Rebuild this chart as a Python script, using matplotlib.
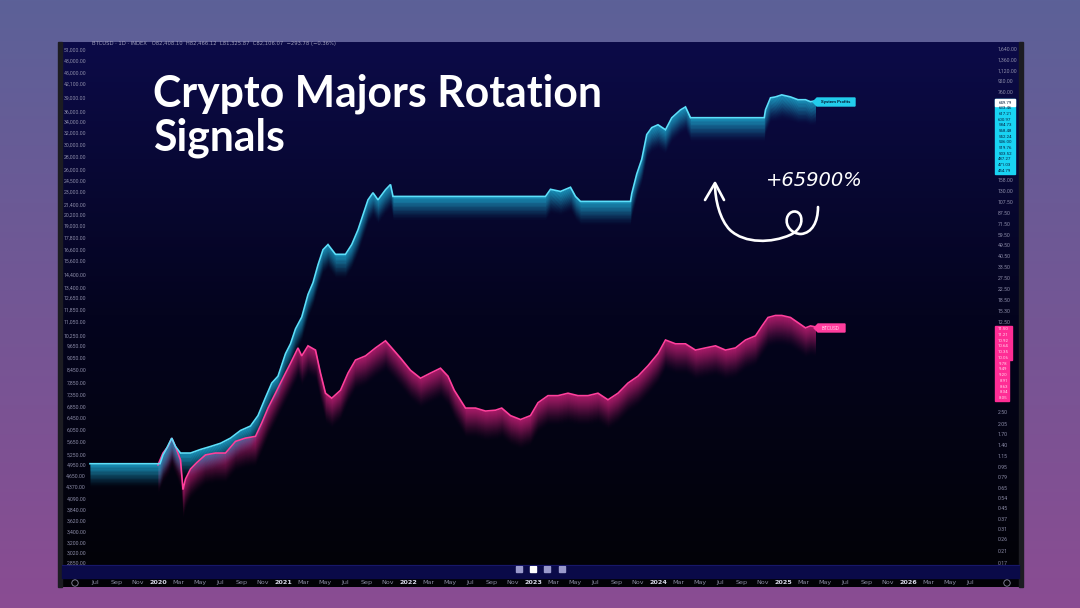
import numpy as np
import matplotlib
matplotlib.use("Agg")
import matplotlib.pyplot as plt
from matplotlib.path import Path
from matplotlib.patches import PathPatch, Rectangle, Polygon, Circle
from matplotlib.ticker import NullLocator

W, H = 1080, 608

# ---- data (decimal years, value as multiple of start) ----
cyan_t = [2019.456, 2020.016, 2020.04, 2020.07, 2020.11, 2020.14, 2020.18, 2020.26, 2020.34,
          2020.42, 2020.50, 2020.58, 2020.66, 2020.74, 2020.80, 2020.86, 2020.91, 2020.96,
          2021.02, 2021.06, 2021.10, 2021.15, 2021.20, 2021.24, 2021.28, 2021.32, 2021.36,
          2021.42, 2021.50, 2021.55, 2021.60, 2021.64, 2021.68, 2021.72, 2021.76, 2021.82,
          2021.86, 2021.88, 2023.10, 2023.14, 2023.22, 2023.30, 2023.34, 2023.38, 2023.78,
          2023.79, 2023.83, 2023.87, 2023.91, 2023.95, 2024.00, 2024.06, 2024.11, 2024.18,
          2024.22, 2024.26, 2024.85, 2024.86, 2024.90, 2024.94, 2024.99, 2025.06, 2025.12,
          2025.18, 2025.22, 2025.26]
cyan_v = [1.0, 1.0, 1.17, 1.32, 1.58, 1.36, 1.21, 1.21, 1.29,
          1.36, 1.44, 1.58, 1.81, 1.96, 2.36, 3.26, 4.22, 4.77,
          7.13, 8.5, 11.1, 13.7, 20.5, 25.3, 34.8, 45.6, 50,
          42, 42, 50, 65, 85, 111, 126, 111, 133,
          146, 118, 118, 134, 129, 139, 118, 108, 108,
          124, 176, 229, 356, 403, 424, 388, 480, 553,
          583, 481, 481, 553, 686, 697, 723, 697, 663,
          663, 640, 649.79]

pink_t = [2020.00, 2020.04, 2020.08, 2020.11, 2020.14, 2020.18, 2020.20, 2020.22, 2020.26,
          2020.31, 2020.38, 2020.46, 2020.54, 2020.62, 2020.70, 2020.78, 2020.83, 2020.88,
          2020.94, 2020.98, 2021.02, 2021.06, 2021.12, 2021.15, 2021.20, 2021.26, 2021.30,
          2021.34, 2021.39, 2021.46, 2021.52, 2021.58, 2021.66, 2021.74, 2021.82, 2021.87,
          2021.94, 2022.02, 2022.10, 2022.18, 2022.26, 2022.32, 2022.37, 2022.46, 2022.54,
          2022.62, 2022.70, 2022.75, 2022.82, 2022.90, 2022.98, 2023.04, 2023.12, 2023.20,
          2023.28, 2023.36, 2023.44, 2023.52, 2023.60, 2023.68, 2023.76, 2023.84, 2023.92,
          2024.00, 2024.06, 2024.14, 2024.22, 2024.30, 2024.38, 2024.46, 2024.54, 2024.62,
          2024.70, 2024.78, 2024.83, 2024.88, 2024.94, 2024.99, 2025.06, 2025.12, 2025.18,
          2025.22, 2025.26]
pink_v = [0.98, 1.21, 1.36, 1.58, 1.36, 1.07, 0.63, 0.76, 0.91,
          1.02, 1.17, 1.21, 1.21, 1.49, 1.58, 1.63, 2.07, 2.70,
          3.52, 4.22, 5.04, 6.0, 7.9, 6.85, 8.2, 7.6, 5.04,
          3.52, 3.22, 3.71, 5.04, 6.36, 6.85, 7.9, 8.97, 7.9,
          6.6, 5.3, 4.6, 5.04, 5.5, 4.77, 3.71, 2.70, 2.70,
          2.56, 2.60, 2.70, 2.36, 2.20, 2.36, 2.97, 3.37, 3.37,
          3.52, 3.37, 3.37, 3.52, 3.13, 3.52, 4.22, 4.77, 5.75,
          7.13, 9.1, 8.5, 8.5, 7.6, 7.9, 8.2, 7.6, 7.9,
          9.1, 9.8, 11.6, 13.6, 14.1, 14.1, 13.6, 12.4, 11.3,
          11.7, 11.5]

left_ticks = [51000, 48000, 45000, 42100, 39000, 36000, 34000, 32000, 30000, 28000, 26000,
              24500, 23000, 21400, 20200, 19000, 17800, 16600, 15600, 14400, 13400, 12650,
              11850, 11050, 10250, 9650, 9050, 8450, 7850, 7350, 6850, 6450, 6050, 5650,
              5250, 4950, 4650, 4370, 4090, 3840, 3620, 3400, 3200, 3020, 2850]
right_ticks = [1640, 1360, 1120, 920, 760, 158, 130, 107.5, 87.5, 71.5, 59.5, 49.5, 40.5,
               33.5, 27.5, 22.5, 18.5, 15.3, 12.5, 3.10, 2.50, 2.05, 1.70, 1.40, 1.15, 0.95,
               0.79, 0.65, 0.54, 0.45, 0.37, 0.31, 0.26, 0.21, 0.17]
cyan_stack = ["649.79", "633.46", "617.21", "600.97", "584.73", "568.48", "552.24", "536.00",
              "519.76", "503.52", "487.27", "471.03", "454.79"]
pink_stack = ["11.50", "11.21", "10.92", "10.64", "10.35", "10.06", "9.78", "9.49", "9.20",
              "8.91", "8.63", "8.34", "8.05"]
month_names = ["Jan", "Feb", "Mar", "Apr", "May", "Jun", "Jul", "Aug", "Sep", "Oct", "Nov", "Dec"]

fig = plt.figure(figsize=(W / 100, H / 100), dpi=100)

# ---- backgrounds ----
bg = fig.add_axes([0, 0, 1, 1], zorder=-10)
bg.axis("off")
g = np.linspace(0, 1, 256)[:, None]
top = np.array([92, 97, 152]) / 255
bot = np.array([138, 76, 146]) / 255
grad = top[None, None, :] * (1 - g[..., None]) + bot[None, None, :] * g[..., None]
bg.imshow(np.repeat(grad, 2, axis=1), extent=[0, W, H, 0], aspect="auto")

pt = np.array([12, 11, 72]) / 255
pm = np.array([4, 4, 30]) / 255
pb = np.array([2, 2, 6]) / 255
gg = np.linspace(0, 1, 256)
pan = np.where(gg[:, None] < 0.5,
               pt * (1 - gg[:, None] / 0.5) + pm * (gg[:, None] / 0.5),
               pm * (1 - (gg[:, None] - 0.5) / 0.5) + pb * ((gg[:, None] - 0.5) / 0.5))
bg.imshow(np.repeat(pan[:, None, :], 2, axis=1), extent=[62, 1019, 587, 42], aspect="auto")
bg.add_patch(Rectangle((58, 42), 4, 545, color="#1c1c22"))
bg.add_patch(Rectangle((1019, 42), 4, 545, color="#1c1c22"))
bg.add_patch(Rectangle((62, 565), 957, 13, color="#0a0a48"))
bg.plot([62, 1019], [565, 565], color="#1a1a70", lw=0.6)
for sx, sc in zip([519, 533, 547, 562], ["#9a9acc", "#ffffff", "#9a9acc", "#9a9acc"]):
    bg.add_patch(Rectangle((sx - 3, 566), 6, 6, color=sc))
bg.set_xlim(0, W)
bg.set_ylim(H, 0)

# ---- main axes ----
x0, x1, y0, y1 = 62, 995, 44, 563
ax = fig.add_axes([x0 / W, 1 - y1 / H, (x1 - x0) / W, (y1 - y0) / H], zorder=2)
ax.set_facecolor("none")
for s in ax.spines.values():
    s.set_visible(False)

# left price scale (decorative BTCUSD scale)
axl = ax.twinx()
axl.set_yscale("log")
axl.set_ylim(51000 * np.exp(-513 / 178), 51000 * np.exp(6 / 178))
axl.yaxis.set_ticks_position("left")
axl.yaxis.set_label_position("left")
axl.yaxis.set_minor_locator(NullLocator())
axl.set_yticks(left_ticks, [f"{v:,.2f}" for v in left_ticks])
axl.tick_params(axis="y", length=0, pad=-17.3, labelsize=3.7, labelcolor="#8c8ca8",
                left=True, labelleft=True, right=False, labelright=False, labelfontfamily="Roboto")
for s in axl.spines.values():
    s.set_visible(False)

r_hi = 1640 * np.exp(5 / 56.3)
r_lo = 1640 * np.exp(-514 / 56.3)
ax.set_yscale("log")
ax.set_ylim(r_lo, r_hi)
ax.set_xlim(2019.232, 2026.696)
ax.yaxis.set_minor_locator(NullLocator())
ax.set_yticks(right_ticks, [f"{v:,.2f}" for v in right_ticks])
ax.tick_params(axis="y", length=0, pad=2.2, labelsize=3.7, labelcolor="#8c8ca8",
               left=False, labelleft=False, right=True, labelright=True, labelfontfamily="Roboto")

xt, xl = [], []
for yr in range(2019, 2027):
    for m in range(1, 13, 2):
        t = yr + (m - 1) / 12
        if 2019.4 < t < 2026.6:
            xt.append(t)
            xl.append(str(yr) if m == 1 else month_names[m - 1])
ax.set_xticks(xt, xl)
ax.tick_params(axis="x", length=0, pad=12.5, labelsize=4.6, labelcolor="#8a8aa2")
for lab in ax.get_xticklabels():
    if lab.get_text().isdigit():
        lab.set_color("#d8d8e8")
        lab.set_fontweight("bold")

pxu = (y1 - y0) / np.log(r_hi / r_lo)


def glow(t, v, line_col, fill_col, depth, n=30, amax=0.9):
    t = np.asarray(t, float)
    v = np.asarray(v, float)
    f = np.exp(-depth / n / pxu)
    for k in range(n):
        a = amax * (1 - k / n) ** 1.7
        ax.fill_between(t, v * f ** (k + 1.6), v * f ** k, color=fill_col, alpha=a, lw=0)
    ax.plot(t, v, color=line_col, lw=1.2, solid_joinstyle="miter")


glow(pink_t, pink_v, "#ff3f9c", "#b01c6c", depth=30, amax=0.85)
glow(cyan_t, cyan_v, "#5ce0fb", "#1a94bc", depth=24)

# ---- overlay (annotations) ----
ov = fig.add_axes([0, 0, 1, 1], zorder=5)
ov.set_facecolor("none")
ov.set_xlim(0, W)
ov.set_ylim(H, 0)
ov.axis("off")

ov.text(92, 44, "BTCUSD · 1D · INDEX   O82,408.10  H82,466.12  L81,325.87  C82,106.07  \u2212293.78 (\u22120.36%)",
        fontsize=3.8, color="#9a9ab8", va="center", ha="left")

ov.text(153, 106, "Crypto Majors Rotation", fontsize=30.8, color="white", family="Lato",
        fontweight="bold", va="baseline")
ov.text(153, 151, "Signals", fontsize=30.8, color="white", family="Lato",
        fontweight="bold", va="baseline")

ov.text(814, 181, "+65900%", fontsize=14, color="white", style="italic", family="DejaVu Sans",
        ha="center", va="center")

verts = [(818, 207), (818, 222), (812, 233), (801, 234),
         (792, 234), (785, 226), (787, 218),
         (789, 210), (799, 209), (801, 217),
         (803, 225), (797, 232), (790, 235),
         (772, 243), (745, 244), (730, 230),
         (720, 220), (715, 200), (715, 184)]
codes = [Path.MOVETO] + [Path.CURVE4] * 18
ov.add_patch(PathPatch(Path(verts, codes), fill=False, ec="white", lw=1.9, capstyle="round"))
ov.plot([705, 715, 724], [200, 183, 200], color="white", lw=1.9, solid_capstyle="round",
        solid_joinstyle="round")

# line labels
ov.add_patch(Polygon([(813, 102), (817, 98), (855, 98), (855, 106), (817, 106)], color="#22cdec"))
ov.text(836, 102, "System Profits", fontsize=3.2, color="#06203a", ha="center", va="center",
        fontweight="bold", family="Roboto")
ov.add_patch(Polygon([(814, 328), (818, 324), (845, 324), (845, 332), (818, 332)], color="#ff3d9e"))
ov.text(831, 328, "BTCUSD", fontsize=3.4, color="#ffd0ea", ha="center", va="center",
        family="Roboto")

# price scale stacks
ov.add_patch(Rectangle((995, 99), 20, 75, color="#19d3f3"))
ov.add_patch(Rectangle((995, 99), 20, 7, color="#ffffff"))
for i, s in enumerate(cyan_stack):
    ov.text(1005, 102.5 + i * 5.67, s, fontsize=3.2, color="#062040", ha="center", va="center",
            family="Roboto")
ov.add_patch(Rectangle((995, 326), 17, 34, color="#ff2d95"))
ov.add_patch(Rectangle((995, 360), 14, 41, color="#ff2d95"))
for i, s in enumerate(pink_stack):
    ov.text(1003.5, 329 + i * 5.77, s, fontsize=3.2, color="#ffd6ec", ha="center", va="center",
            family="Roboto")

for cx in (75, 1007):
    ov.add_patch(Circle((cx, 583), 3.2, fill=False, ec="#8a8aa2", lw=0.6))

fig.savefig("out.png", dpi=100)
